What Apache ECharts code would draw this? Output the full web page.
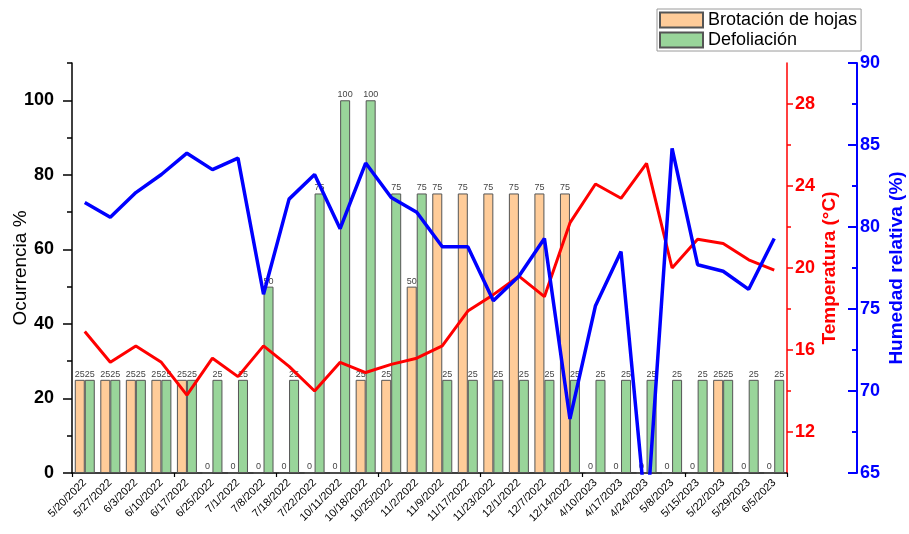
<!DOCTYPE html>
<html>
<head>
<meta charset="utf-8">
<script src="https://cdn.jsdelivr.net/npm/echarts@6/dist/echarts.min.js"></script>
<style>
  html, body { margin: 0; padding: 0; background: #fff; }
  #chart { width: 909px; height: 534px; }
</style>
</head>
<body>
<div id="chart"></div>
<script>
// Sampling dates
const fechas = ['5/20/2022','5/27/2022','6/3/2022','6/10/2022','6/17/2022','6/25/2022','7/1/2022','7/8/2022',
  '7/18/2022','7/22/2022','10/11/2022','10/18/2022','10/25/2022','11/2/2022','11/9/2022','11/17/2022',
  '11/23/2022','12/1/2022','12/7/2022','12/14/2022','4/10/2023','4/17/2023','4/24/2023','5/8/2023',
  '5/15/2023','5/22/2023','5/29/2023','6/5/2023'];

// Occurrence (%)
const brotacion = [25,25,25,25,25,0,0,0,0,0,0,25,25,50,75,75,75,75,75,75,0,0,0,0,0,25,0,0];
const defoliacion = [25,25,25,25,25,25,25,50,25,75,100,100,75,75,25,25,25,25,25,25,25,25,25,25,25,25,25,25];

// Temperature (°C)
const temperatura = [16.9,15.4,16.2,15.4,13.8,15.6,14.7,16.2,15.2,14.0,15.4,14.9,15.3,15.6,16.2,17.9,
  18.7,19.6,18.6,22.2,24.1,23.4,25.1,20.0,21.4,21.2,20.4,19.9];

// Relative humidity (%)
const humedad = [81.5,80.6,82.1,83.2,84.5,83.5,84.2,75.9,81.7,83.2,79.9,83.9,81.8,80.9,78.8,78.8,
  75.5,77.0,79.3,68.3,75.2,78.5,62.0,84.8,77.7,77.3,76.2,79.3];

// Axis tick positions
const ocurrTicks = [0,20,40,60,80,100];
const ocurrMinor = [10,30,50,70,90,110];
const tempTicks = [12,16,20,24,28];
const tempMinor = [14,18,22,26];
const humTicks = [65,70,75,80,85,90];
const humMinor = [67.5,72.5,77.5,82.5,87.5];

const FONT = 'Liberation Sans, Arial, sans-serif';
const chart = echarts.init(document.getElementById('chart'), null, { renderer: 'canvas' });

const barLabel = {
  show: true, position: 'top', distance: 1,
  fontSize: 9, color: '#444', fontFamily: FONT
};

const option = {
  backgroundColor: '#ffffff',
  animation: false,
  grid: { left: 72, right: 122, top: 63, bottom: 61, containLabel: false, outerBoundsMode: 'none' },
  legend: {
    left: 657, top: 9, orient: 'vertical', icon: 'rect',
    itemWidth: 43, itemHeight: 15, itemGap: 2,
    padding: [2, 4, 2, 2],
    borderColor: '#9a9a9a', borderWidth: 1,
    textStyle: { fontSize: 18, color: '#000', fontFamily: FONT },
    data: ['Brotación de hojas', 'Defoliación']
  },
  xAxis: [
    {
      type: 'category', data: fechas, position: 'bottom',
      axisLine: { lineStyle: { color: '#000', width: 1.5 } },
      axisTick: { alignWithLabel: true, length: 8, lineStyle: { color: '#000', width: 1.5 } },
      axisLabel: { rotate: 45, fontSize: 11, color: '#000', fontFamily: FONT, margin: 8, interval: 0 },
      splitLine: { show: false }
    },
    {
      type: 'category', data: fechas, position: 'bottom',
      axisLine: { show: false },
      axisTick: { show: true, length: 4, lineStyle: { color: '#000', width: 1.2 } },
      axisLabel: { show: false },
      splitLine: { show: false }
    }
  ],
  yAxis: [
    {
      type: 'value', position: 'left', min: 0, max: 110,
      name: 'Ocurrencia %', nameLocation: 'middle', nameGap: 42, nameMoveOverlap: false,
      nameTextStyle: { fontSize: 19, color: '#000', fontFamily: FONT },
      axisLine: { show: true, lineStyle: { color: '#000', width: 1.5 } },
      axisTick: { show: true, length: 9, customValues: ocurrTicks, lineStyle: { color: '#000', width: 1.5 } },
      axisLabel: { customValues: ocurrTicks, fontSize: 18, fontWeight: 'bold', color: '#000', fontFamily: FONT, margin: 18 },
      splitLine: { show: false }
    },
    {
      type: 'value', position: 'left', min: 0, max: 110,
      axisLine: { show: false },
      axisTick: { show: true, length: 5, customValues: ocurrMinor, lineStyle: { color: '#000', width: 1.5 } },
      axisLabel: { show: false },
      splitLine: { show: false }
    },
    {
      type: 'value', position: 'right', min: 10, max: 30,
      name: 'Temperatura (°C)', nameLocation: 'middle', nameGap: 33, nameMoveOverlap: false,
      nameTextStyle: { fontSize: 19, fontWeight: 'bold', color: '#ff0000', fontFamily: FONT },
      axisLine: { show: true, lineStyle: { color: '#ff0000', width: 1.5 } },
      axisTick: { show: true, length: 6, customValues: tempTicks, lineStyle: { color: '#ff0000', width: 1.5 } },
      axisLabel: { customValues: tempTicks, fontSize: 18, fontWeight: 'bold', color: '#ff0000', fontFamily: FONT, margin: 8 },
      splitLine: { show: false }
    },
    {
      type: 'value', position: 'right', min: 10, max: 30,
      axisLine: { show: false },
      axisTick: { show: true, length: 4, customValues: tempMinor, lineStyle: { color: '#ff0000', width: 1.5 } },
      axisLabel: { show: false },
      splitLine: { show: false }
    },
    {
      type: 'value', position: 'right', offset: 70, min: 65, max: 90,
      name: 'Humedad relativa (%)', nameLocation: 'middle', nameGap: 30, nameMoveOverlap: false,
      nameTextStyle: { fontSize: 19, fontWeight: 'bold', color: '#0000ff', fontFamily: FONT },
      axisLine: { show: true, lineStyle: { color: '#0000ff', width: 2 } },
      axisTick: { show: true, inside: true, length: 9, customValues: humTicks, lineStyle: { color: '#0000ff', width: 2 } },
      axisLabel: { customValues: humTicks, fontSize: 18, fontWeight: 'bold', color: '#0000ff', fontFamily: FONT, margin: 3 },
      splitLine: { show: false }
    },
    {
      type: 'value', position: 'right', offset: 70, min: 65, max: 90,
      axisLine: { show: false },
      axisTick: { show: true, inside: true, length: 5, customValues: humMinor, lineStyle: { color: '#0000ff', width: 2 } },
      axisLabel: { show: false },
      splitLine: { show: false }
    }
  ],
  series: [
    {
      name: 'Brotación de hojas', type: 'bar', xAxisIndex: 0, yAxisIndex: 0,
      data: brotacion, barWidth: 10, barGap: '0%',
      itemStyle: { color: '#ffcc99', borderColor: '#555', borderWidth: 1 },
      label: barLabel
    },
    {
      name: 'Defoliación', type: 'bar', xAxisIndex: 0, yAxisIndex: 0,
      data: defoliacion, barWidth: 10, barGap: '0%',
      itemStyle: { color: '#99d59a', borderColor: '#555', borderWidth: 1 },
      label: barLabel
    },
    {
      name: 'Temperatura', type: 'line', xAxisIndex: 0, yAxisIndex: 2,
      data: temperatura, showSymbol: false, symbol: 'none', clip: true,
      lineStyle: { color: '#ff0000', width: 3 }
    },
    {
      name: 'Humedad', type: 'line', xAxisIndex: 0, yAxisIndex: 4,
      data: humedad, showSymbol: false, symbol: 'none', clip: true,
      lineStyle: { color: '#0000ff', width: 3.5 }
    }
  ]
};

chart.setOption(option);
</script>
</body>
</html>
